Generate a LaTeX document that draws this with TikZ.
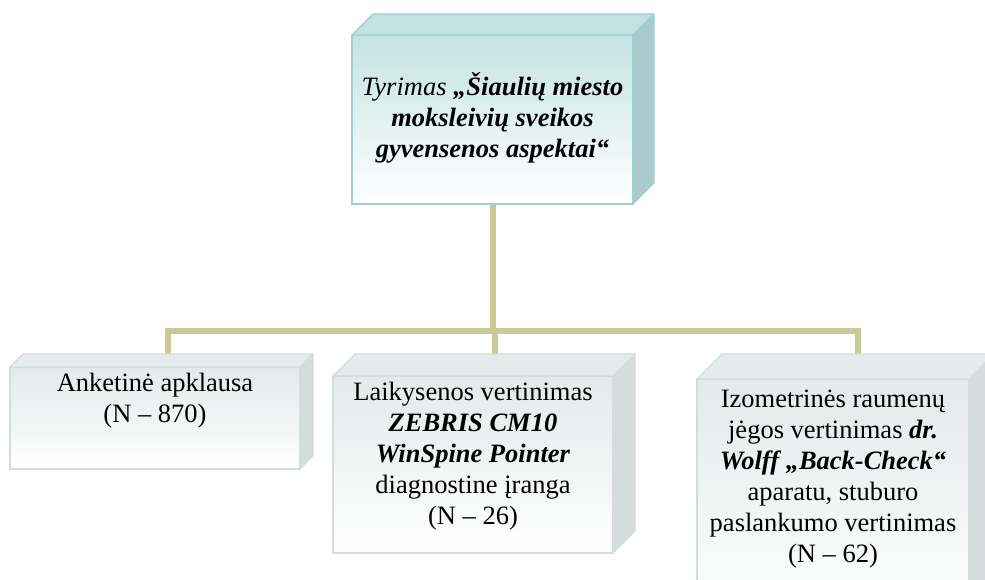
\documentclass[tikz,border=0pt]{standalone}
\usepackage{fontspec}
\setmainfont{Liberation Serif}
\usetikzlibrary{positioning,backgrounds}
\definecolor{linkcol}{RGB}{204,201,150}
\definecolor{tealedge}{RGB}{160,208,208}
\definecolor{tealtop}{RGB}{196,227,227}
\definecolor{tealroof}{RGB}{196,224,224}
\definecolor{tealside}{RGB}{170,203,203}
\definecolor{greyedge}{RGB}{212,221,221}
\definecolor{greytop}{RGB}{228,233,233}
\definecolor{greyroof}{RGB}{229,234,234}
\definecolor{greyside}{RGB}{213,220,220}
\newcommand{\drawsides}[5]{%
  \filldraw[draw=#5, fill=#3, line width=1.2pt, line join=round]
    (#1.north west) -- ++(#2,-#2) -- ([xshift=#2pt,yshift=#2pt]#1.north east) -- (#1.north east) -- cycle;
  \filldraw[draw=#5, fill=#4, line width=1.2pt, line join=round]
    (#1.north east) -- ([xshift=#2pt,yshift=#2pt]#1.north east) -- ([xshift=#2pt,yshift=#2pt]#1.south east) -- (#1.south east) -- cycle;
}
\begin{document}
\begin{tikzpicture}[x=1pt, y=-1pt,
    link/.style={draw=linkcol, line width=6pt},
    mainface/.style={draw=tealedge, line width=1.2pt, top color=tealtop, bottom color=white, inner sep=0pt, outer sep=0pt, anchor=north west},
    subface/.style={draw=greyedge, line width=1.2pt, top color=greytop, bottom color=white, inner sep=0pt, outer sep=0pt, anchor=north west},
    boxtext/.style={align=center, inner sep=0pt, font=\fontsize{26.5}{31}\selectfont}]
\useasboundingbox (0,0) rectangle (985,580);

\node[mainface, minimum width=281pt, minimum height=169pt] (study) at (352,35) {};
\drawsides{study}{21}{tealroof}{tealside}{tealedge}
\node[boxtext, yshift=2pt] (studytxt) at (study.center) {\itshape Tyrimas \bfseries „Šiaulių miesto\\ \itshape\bfseries moksleivių sveikos\\ \itshape\bfseries gyvensenos aspektai“};

\node[subface, minimum width=290pt, minimum height=102pt] (survey) at (10,367) {};
\drawsides{survey}{13}{greyroof}{greyside}{greyedge}
\node[boxtext, below=6pt of survey.north] (surveytxt) {Anketinė apklausa\\ (N – 870)};

\node[subface, minimum width=280pt, minimum height=177pt] (zebra) at (333,376) {};
\drawsides{zebra}{22}{greyroof}{greyside}{greyedge}
\node[boxtext, below=6pt of zebra.north] (zebratxt) {Laikysenos vertinimas\\ \textbf{\textit{ZEBRIS CM10}}\\ \textbf{\textit{WinSpine Pointer}}\\ diagnostine įranga\\ (N – 26)};

\node[subface, minimum width=272pt, minimum height=240pt] (backcheck) at (697,379) {};
\drawsides{backcheck}{25}{greyroof}{greyside}{greyedge}
\node[boxtext, below=11pt of backcheck.north] (backchecktxt) {Izometrinės raumenų\\ jėgos vertinimas \textbf{\textit{dr.}}\\ \textbf{\textit{Wolff „Back-Check“}}\\ aparatu, stuburo\\ paslankumo vertinimas\\ (N – 62)};

\coordinate (hub) at ([yshift=-127pt]study.south);
\begin{scope}[on background layer]
\draw[link] (study.south) -- (hub);
\draw[link] (hub) -| ([xshift=13pt,yshift=13pt]survey.north);
\draw[link] (hub) -| ([xshift=22pt,yshift=22pt]zebra.north);
\draw[link] (hub) -| ([xshift=25pt,yshift=25pt]backcheck.north);
\end{scope}
\end{tikzpicture}
\end{document}
